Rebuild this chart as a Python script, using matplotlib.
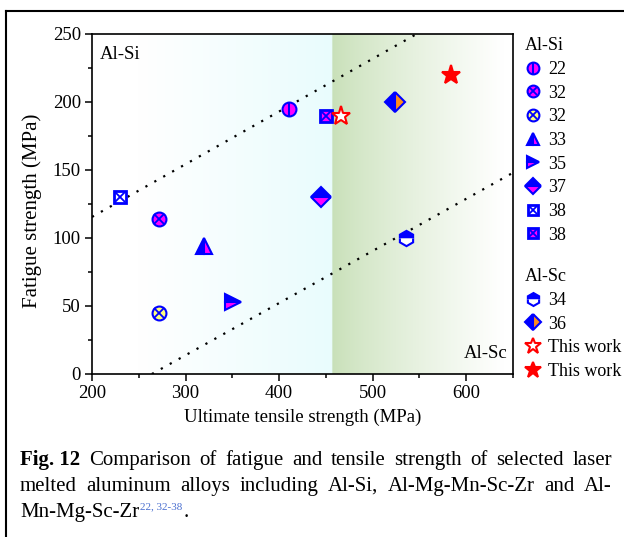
import numpy as np
import matplotlib
matplotlib.use("Agg")
import matplotlib.pyplot as plt
from matplotlib.lines import Line2D
from matplotlib.legend_handler import HandlerTuple

plt.rcParams['font.family'] = ['Liberation Serif', 'DejaVu Serif']

# ---------------- data ----------------
labels_si = ["22", "32", "32", "33", "35", "37", "38", "38"]
uts_si = [411, 272, 272, 320, 351, 445, 230, 450]
fat_si = [195, 114, 45, 94, 53, 130, 130, 190]

labels_sc = ["34", "36", "This work", "This work"]
uts_sc = [536, 524, 466, 584]
fat_sc = [100, 200, 190, 220]

upper_line_x = [200, 547]
upper_line_y = [115.5, 250]
lower_line_x = [264, 650]
lower_line_y = [0, 148]

xticks = [200, 300, 400, 500, 600]
yticks = [0, 50, 100, 150, 200, 250]

# ---------------- figure ----------------
W, H = 624, 537
fig = plt.figure(figsize=(W / 100, H / 100), dpi=100)
ax = fig.add_axes([92 / W, (H - 374) / H, 421 / W, 340 / H])
ax.set_xlim(200, 650)
ax.set_ylim(0, 250)

# background gradient
xs = np.linspace(200, 650, 1200)
white = np.array([1.0, 1.0, 1.0])
cyan = np.array([233, 252, 253]) / 255
green = np.array([200, 224, 184]) / 255
cols = np.zeros((len(xs), 3))
for i, xv in enumerate(xs):
    if xv < 457:
        t = np.clip((xv - 250) / (457 - 250), 0, 1)
        cols[i] = white * (1 - t) + cyan * t
    else:
        t = np.clip((xv - 457) / (640 - 457), 0, 1) ** 0.8
        cols[i] = green * (1 - t) + white * t
ax.imshow(cols[None, :, :], extent=[200, 650, 0, 250], aspect='auto', zorder=0,
          interpolation='bilinear')

# trend lines
ax.plot(upper_line_x, upper_line_y, color='black', lw=1.6, ls=(0, (1, 3.6)), zorder=2)
ax.plot(lower_line_x, lower_line_y, color='black', lw=1.6, ls=(0, (1, 3.6)), zorder=2)

B = '#0000FF'
M = '#FF00FF'
Y = '#FFFF80'
O = '#FF8C1A'
R = '#FF0000'

def base(marker, ms, fc, fs='full', fca='none', ec=B, mew=1.5):
    return dict(marker=marker, ms=ms, mfc=fc, mec=ec, mew=mew, fillstyle=fs,
                markerfacecoloralt=fca, ls='none')

si_styles = [
    [base('o', 10, M), dict(marker='|', ms=10, mec=B, mew=1.5, ls='none')],
    [base('o', 10, M), dict(marker='x', ms=6.5, mec=B, mew=1.3, ls='none')],
    [base('o', 10, Y), dict(marker='x', ms=6.5, mec=B, mew=1.3, ls='none')],
    [base('^', 11, B, 'left', M)],
    [base('>', 11, B, 'top', M)],
    [base('D', 10, B, 'top', M)],
    [base('s', 9, 'white', mew=2), dict(marker='x', ms=7, mec=B, mew=1.3, ls='none')],
    [base('s', 9, M, mew=2), dict(marker='x', ms=7, mec=B, mew=1.3, ls='none')],
]
sc_styles = [
    [base('h', 11, B, 'top', 'white')],
    [base('D', 10, B, 'left', O)],
    [base('*', 14, 'white', ec=R, mew=1.5)],
    [base('*', 14, R, ec=R, mew=1.5)],
]

def draw(xv, yv, styles):
    for xi, yi, st in zip(xv, yv, styles):
        for s in st:
            ax.plot([xi], [yi], zorder=3, **s)

draw(uts_si, fat_si, si_styles)
draw(uts_sc, fat_sc, sc_styles)

def leg_handles(styles, scale=0.85):
    out = []
    for st in styles:
        hs = []
        for s in st:
            s2 = dict(s)
            s2['ms'] = s['ms'] * scale
            hs.append(Line2D([], [], **s2))
        out.append(tuple(hs))
    return out

common = dict(frameon=False, fontsize=13, handlelength=0.9, handletextpad=0.4,
              labelspacing=0.37, borderpad=0, borderaxespad=0, title_fontsize=13,
              alignment='left', handler_map={tuple: HandlerTuple(ndivide=1)})
leg1 = fig.legend(leg_handles(si_styles), labels_si, loc='upper left',
                  bbox_to_anchor=(525 / W, (H - 37) / H), title='Al-Si', **common)
leg2 = fig.legend(leg_handles(sc_styles), labels_sc, loc='upper left',
                  bbox_to_anchor=(525 / W, (H - 268) / H), title='Al-Sc', **common)
for lg in (leg1, leg2):
    lg._legend_box.sep = 5

# region labels
ax.text(0.018, 0.965, 'Al-Si', transform=ax.transAxes, fontsize=13.5, va='top', ha='left', zorder=5)
ax.text(0.988, 0.035, 'Al-Sc', transform=ax.transAxes, fontsize=13.5, va='bottom', ha='right', zorder=5)

# axes formatting
ax.set_xticks(xticks)
ax.set_yticks(yticks)
ax.set_xticks(np.arange(250, 651, 100), minor=True)
ax.set_yticks(np.arange(25, 250, 50), minor=True)
ax.tick_params(axis='both', which='major', direction='out', length=5, width=1.1, labelsize=13.5, pad=3)
ax.tick_params(axis='both', which='minor', direction='out', length=3, width=1.1)
for sp in ax.spines.values():
    sp.set_linewidth(1.2)
ax.set_xlabel('Ultimate tensile strength (MPa)', fontsize=13.5, labelpad=5)
ax.set_ylabel('Fatigue strength (MPa)', fontsize=15)
ax.yaxis.set_label_coords(-0.118, 0.48)

# outer frame (cropped box)
fig.add_artist(Line2D([6 / W, 6 / W], [0, (H - 11) / H], transform=fig.transFigure, color='black', lw=1.5))
fig.add_artist(Line2D([6 / W, 1.0], [(H - 11) / H, (H - 11) / H], transform=fig.transFigure, color='black', lw=1.5))

# caption with justified lines
renderer = fig.canvas.get_renderer()
cap_fs = 15
left_px, right_px = 20, 612

def justify(words, ypix, weights):
    texts = []
    for w, wt in zip(words, weights):
        t = fig.text(0, 1 - ypix / H, w, fontsize=cap_fs, fontweight=wt, va='baseline', ha='left')
        texts.append(t)
    widths = [t.get_window_extent(renderer).width for t in texts]
    gap = (right_px - left_px - sum(widths)) / (len(texts) - 1)
    xcur = left_px
    for t, w in zip(texts, widths):
        t.set_x(xcur / W)
        xcur += w + gap

line1 = ["Fig. 12", "Comparison", "of", "fatigue", "and", "tensile", "strength", "of", "selected", "laser"]
justify(line1, 465, ['bold'] + ['normal'] * (len(line1) - 1))
line2 = ["melted", "aluminum", "alloys", "including", "Al-Si,", "Al-Mg-Mn-Sc-Zr", "and", "Al-"]
justify(line2, 491, ['normal'] * len(line2))
t3 = fig.text(left_px / W, 1 - 517 / H, "Mn-Mg-Sc-Zr", fontsize=cap_fs, va='baseline', ha='left')
w3 = t3.get_window_extent(renderer).width
t4 = fig.text((left_px + w3 + 1) / W, 1 - 509 / H, "22, 32-38", fontsize=8, color='#4a6fd0',
              va='baseline', ha='left')
w4 = t4.get_window_extent(renderer).width
fig.text((left_px + w3 + w4 + 2) / W, 1 - 517 / H, ".", fontsize=cap_fs, va='baseline', ha='left')

fig.savefig('out.png', dpi=100)
